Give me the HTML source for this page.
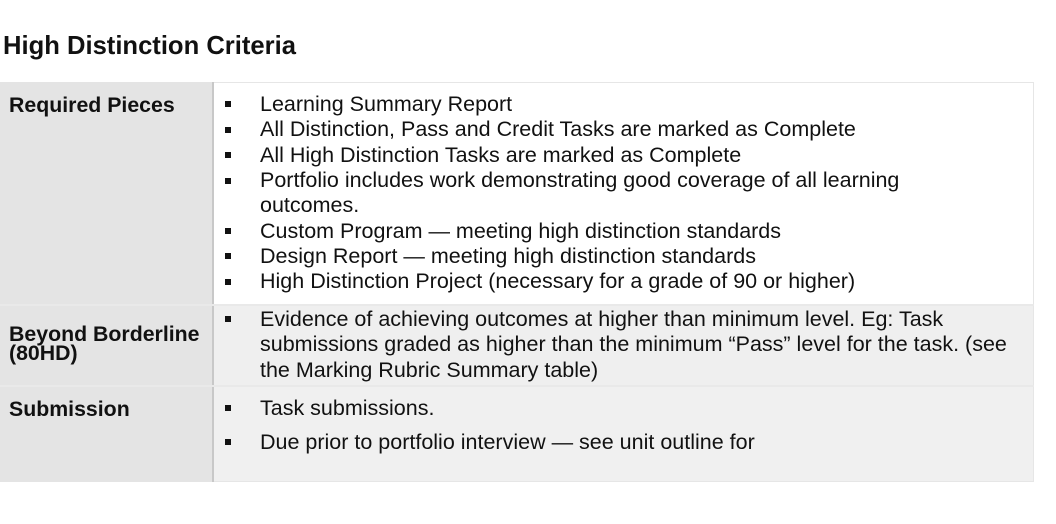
<!DOCTYPE html>
<html><head><meta charset="utf-8"><style>
*{margin:0;padding:0;box-sizing:border-box}
body{width:1056px;height:524px;background:#fff;font-family:"Liberation Sans",Arial,sans-serif;color:#111;position:relative;overflow:hidden}
.t{position:absolute;left:3px;top:32px;font-size:25.6px;font-weight:bold}
.cell{position:absolute}
.lab{position:absolute;left:9px;font-size:21.3px;font-weight:bold;line-height:19px}
.li{position:absolute;left:260px;font-size:21.5px;line-height:25.3px;white-space:nowrap}
.b{position:absolute;left:225px;width:6px;height:6px;background:#111}
</style></head><body>
<div class="t">High Distinction Criteria</div>
<div class="cell" style="left:0;top:82px;width:1034px;height:400px;border:1px solid #e6e6e6;background:#fff"></div>
<div class="cell" style="left:0;top:82px;width:212px;height:400px;background:#e4e4e4"></div>
<div class="cell" style="left:214px;top:305px;width:819px;height:81px;background:#efefef"></div>
<div class="cell" style="left:214px;top:387px;width:819px;height:94px;background:#f0f0f0"></div>
<div class="cell" style="left:212px;top:82px;width:2px;height:400px;background:#c8c8c8"></div>
<div class="cell" style="left:0;top:304px;width:1034px;height:2px;background:#e9e9e9"></div>
<div class="cell" style="left:0;top:385px;width:1034px;height:2px;background:#e9e9e9"></div>

<div class="lab" style="top:96px">Required Pieces</div>
<div class="lab" style="top:325px;line-height:19px">Beyond Borderline<br>(80HD)</div>
<div class="lab" style="top:400px">Submission</div>

<div class="b" style="top:101px"></div><div class="li" style="top:92px">Learning Summary Report</div>
<div class="b" style="top:127px"></div><div class="li" style="top:117px">All Distinction, Pass and Credit Tasks are marked as Complete</div>
<div class="b" style="top:152px"></div><div class="li" style="top:143px">All High Distinction Tasks are marked as Complete</div>
<div class="b" style="top:178px"></div><div class="li" style="top:168px">Portfolio includes work demonstrating good coverage of all learning<br>outcomes.</div>
<div class="b" style="top:228px"></div><div class="li" style="top:219px">Custom Program — meeting high distinction standards</div>
<div class="b" style="top:253px"></div><div class="li" style="top:244px">Design Report — meeting high distinction standards</div>
<div class="b" style="top:279px"></div><div class="li" style="top:269px">High Distinction Project (necessary for a grade of 90 or higher)</div>
<div class="b" style="top:316px"></div><div class="li" style="top:307px">Evidence of achieving outcomes at higher than minimum level. Eg: Task<br>submissions graded as higher than the minimum “Pass” level for the task. (see<br>the Marking Rubric Summary table)</div>
<div class="b" style="top:405px"></div><div class="li" style="top:396px">Task submissions.</div>
<div class="b" style="top:439px"></div><div class="li" style="top:430px">Due prior to portfolio interview — see unit outline for</div>
</body></html>
